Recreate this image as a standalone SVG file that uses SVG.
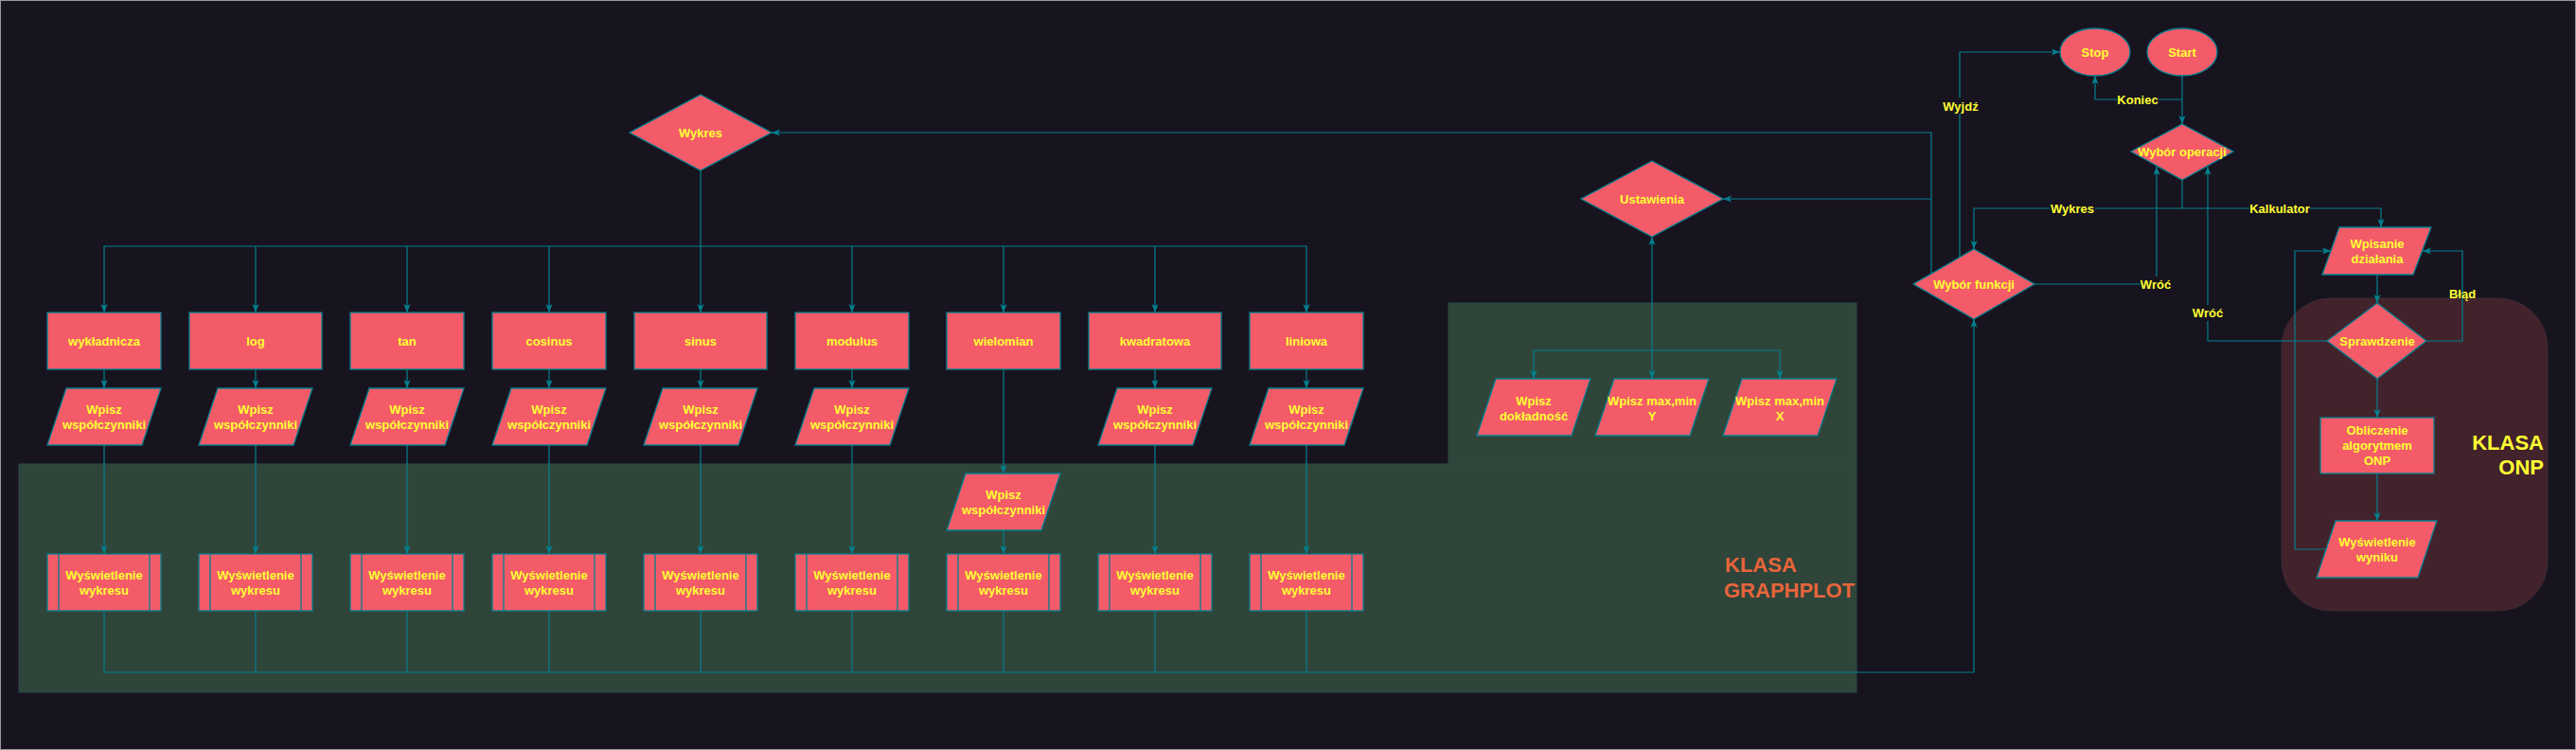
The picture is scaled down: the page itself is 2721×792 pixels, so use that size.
<svg xmlns="http://www.w3.org/2000/svg" width="2721" height="792" viewBox="0 0 2721 792">
<defs>
<style>
.n{fill:#F45B69;stroke:#028090;stroke-width:1.3}
.t{font-family:"Liberation Sans",Arial,sans-serif;font-weight:bold;font-size:13px;fill:#FFFF33;text-anchor:middle;dominant-baseline:central}
.e{fill:none;stroke:#028090;stroke-width:1.2}
.lb{fill:#17141F}
.big{font-family:"Liberation Sans",Arial,sans-serif;font-weight:bold;font-size:22px;dominant-baseline:central}
</style>
<marker id="a" viewBox="0 0 10 10" refX="10" refY="5" markerWidth="9" markerHeight="9" markerUnits="userSpaceOnUse" orient="auto-start-reverse">
<path d="M0,1 L10,5 L0,9 L2.5,5 Z" fill="#028090"/>
</marker>
</defs>
<rect x="0" y="0" width="2721" height="792" fill="#17141F"/>
<rect x="0.5" y="0.5" width="2720" height="791" fill="none" stroke="#9a9a9a" stroke-width="1"/>
<g id="regions">
<rect x="1530" y="320" width="431" height="170" fill="#2F4539" stroke="#2A4B4B" stroke-width="1"/>
<rect x="20" y="490" width="1941" height="241" fill="#2F4539" stroke="#2A4B4B" stroke-width="1"/>
<rect x="2410" y="315" width="281" height="330" rx="52" ry="52" fill="#42222B" stroke="#3a2a33" stroke-width="1"/>
<text class="big" x="1822" y="596" fill="#E8643C">KLASA</text>
<text class="big" x="1821" y="623" fill="#E8643C">GRAPHPLOT</text>
<text class="big" x="2687" y="467" fill="#FFFF33" text-anchor="end">KLASA</text>
<text class="big" x="2687" y="493" fill="#FFFF33" text-anchor="end">ONP</text>
</g>
<g id="connectors">
<path class="e" d="M740,180 V330" marker-end="url(#a)"/>
<path class="e" d="M740,260 H110 V330" marker-end="url(#a)"/>
<path class="e" d="M580,260 V330" marker-end="url(#a)"/>
<path class="e" d="M430,260 V330" marker-end="url(#a)"/>
<path class="e" d="M270,260 V330" marker-end="url(#a)"/>
<path class="e" d="M740,260 H1380 V330" marker-end="url(#a)"/>
<path class="e" d="M900,260 V330" marker-end="url(#a)"/>
<path class="e" d="M1060,260 V330" marker-end="url(#a)"/>
<path class="e" d="M1220,260 V330" marker-end="url(#a)"/>
<path class="e" d="M110,390 V410" marker-end="url(#a)"/>
<path class="e" d="M270,390 V410" marker-end="url(#a)"/>
<path class="e" d="M430,390 V410" marker-end="url(#a)"/>
<path class="e" d="M580,390 V410" marker-end="url(#a)"/>
<path class="e" d="M740,390 V410" marker-end="url(#a)"/>
<path class="e" d="M900,390 V410" marker-end="url(#a)"/>
<path class="e" d="M1060,390 V500" marker-end="url(#a)"/>
<path class="e" d="M1220,390 V410" marker-end="url(#a)"/>
<path class="e" d="M1380,390 V410" marker-end="url(#a)"/>
<path class="e" d="M110,470 V585" marker-end="url(#a)"/>
<path class="e" d="M270,470 V585" marker-end="url(#a)"/>
<path class="e" d="M430,470 V585" marker-end="url(#a)"/>
<path class="e" d="M580,470 V585" marker-end="url(#a)"/>
<path class="e" d="M740,470 V585" marker-end="url(#a)"/>
<path class="e" d="M900,470 V585" marker-end="url(#a)"/>
<path class="e" d="M1060,560 V585" marker-end="url(#a)"/>
<path class="e" d="M1220,470 V585" marker-end="url(#a)"/>
<path class="e" d="M1380,470 V585" marker-end="url(#a)"/>
<path class="e" d="M110,645 V710 M270,645 V710 M430,645 V710 M580,645 V710 M740,645 V710 M900,645 V710 M1060,645 V710 M1220,645 V710 M1380,645 V710"/>
<path class="e" d="M110,710 H2085 V337" stroke-width="1.8" marker-end="url(#a)"/>
<path class="e" d="M2040,289 V140 H815" marker-end="url(#a)"/>
<path class="e" d="M2040,210 H1820" marker-end="url(#a)"/>
<path class="e" d="M2070,272 V55 H2176" marker-end="url(#a)"/>
<path class="e" d="M1745,250 V400" marker-start="url(#a)" marker-end="url(#a)"/>
<path class="e" d="M1745,370 H1620 V400" marker-end="url(#a)"/>
<path class="e" d="M1745,370 H1880 V400" marker-end="url(#a)"/>
<path class="e" d="M2305,80 V131" stroke-width="1.6" marker-end="url(#a)"/>
<path class="e" d="M2305,105 H2213 V80" marker-end="url(#a)"/>
<path class="e" d="M2305,190 V220 H2085 V263" stroke-width="1.5" marker-end="url(#a)"/>
<path class="e" d="M2305,220 H2515 V240" marker-end="url(#a)"/>
<path class="e" d="M2149,300 H2278 V176" marker-end="url(#a)"/>
<path class="e" d="M2458,360 H2332 V176" marker-end="url(#a)"/>
<path class="e" d="M2511,290 V320" marker-end="url(#a)"/>
<path class="e" d="M2563,360 H2601 V265 H2559" marker-end="url(#a)"/>
<path class="e" d="M2511,400 V441" marker-end="url(#a)"/>
<path class="e" d="M2511,500 V550" marker-end="url(#a)"/>
<path class="e" d="M2457,580 H2424 V265 H2462" marker-end="url(#a)"/>
<g id="edge-labels">
<rect class="lb" x="2055" y="103" width="32" height="17"/>
<text class="t" x="2071" y="112">Wyjdź</text>
<rect class="lb" x="2236" y="97" width="44" height="17"/>
<text class="t" x="2258" y="105">Koniec</text>
<rect class="lb" x="2165" y="212" width="48" height="17"/>
<text class="t" x="2189" y="220">Wykres</text>
<rect class="lb" x="2376" y="212" width="64" height="17"/>
<text class="t" x="2408" y="220">Kalkulator</text>
<rect class="lb" x="2261" y="292" width="32" height="17"/>
<text class="t" x="2277" y="300">Wróć</text>
<rect class="lb" x="2316" y="322" width="32" height="17"/>
<text class="t" x="2332" y="330">Wróć</text>
<text class="t" x="2601" y="310">Błąd</text>
</g>
</g>
<g id="start"><ellipse class="n" cx="2305" cy="55" rx="37" ry="25"/><text class="t" x="2305" y="55">Start</text></g>
<g id="stop"><ellipse class="n" cx="2213" cy="55" rx="37" ry="25"/><text class="t" x="2213" y="55">Stop</text></g>
<g id="wybor-operacji"><polygon class="n" points="2305,131 2359,160 2305,190 2251,160"/><text class="t" x="2305" y="160">Wybór operacji</text></g>
<g id="wybor-funkcji"><polygon class="n" points="2085,263 2149,300 2085,337 2021,300"/><text class="t" x="2085" y="300">Wybór funkcji</text></g>
<g id="wpisanie"><polygon class="n" points="2471,240 2568,240 2549,290 2453,290"/><text class="t" x="2511" y="257">Wpisanie</text><text class="t" x="2511" y="273">działania</text></g>
<g id="sprawdzenie"><polygon class="n" points="2511,320 2563,360 2511,400 2458,360"/><text class="t" x="2511" y="360">Sprawdzenie</text></g>
<g id="onp"><rect class="n" x="2451" y="441" width="120" height="59"/><text class="t" x="2511" y="454">Obliczenie</text><text class="t" x="2511" y="470">algorytmem</text><text class="t" x="2511" y="486">ONP</text></g>
<g id="wynik"><polygon class="n" points="2467,550 2574,550 2554,610 2447,610"/><text class="t" x="2511" y="572">Wyświetlenie</text><text class="t" x="2511" y="588">wyniku</text></g>
<g id="ustawienia"><polygon class="n" points="1745,170 1820,210 1745,250 1670,210"/><text class="t" x="1745" y="210">Ustawienia</text></g>
<g id="dokladnosc"><polygon class="n" points="1580,400 1680,400 1660,460 1560,460"/><text class="t" x="1620" y="423">Wpisz</text><text class="t" x="1620" y="439">dokładność</text></g>
<g id="maxmin-y"><polygon class="n" points="1705,400 1805,400 1785,460 1685,460"/><text class="t" x="1745" y="423">Wpisz max,min</text><text class="t" x="1745" y="439">Y</text></g>
<g id="maxmin-x"><polygon class="n" points="1840,400 1940,400 1920,460 1820,460"/><text class="t" x="1880" y="423">Wpisz max,min</text><text class="t" x="1880" y="439">X</text></g>
<g id="wykres"><polygon class="n" points="740,100 815,140 740,180 665,140"/><text class="t" x="740" y="140">Wykres</text></g>
<g id="f-wykladnicza"><rect class="n" x="50" y="330" width="120" height="60"/><text class="t" x="110" y="360">wykładnicza</text></g>
<g id="f-log"><rect class="n" x="200" y="330" width="140" height="60"/><text class="t" x="270" y="360">log</text></g>
<g id="f-tan"><rect class="n" x="370" y="330" width="120" height="60"/><text class="t" x="430" y="360">tan</text></g>
<g id="f-cosinus"><rect class="n" x="520" y="330" width="120" height="60"/><text class="t" x="580" y="360">cosinus</text></g>
<g id="f-sinus"><rect class="n" x="670" y="330" width="140" height="60"/><text class="t" x="740" y="360">sinus</text></g>
<g id="f-modulus"><rect class="n" x="840" y="330" width="120" height="60"/><text class="t" x="900" y="360">modulus</text></g>
<g id="f-wielomian"><rect class="n" x="1000" y="330" width="120" height="60"/><text class="t" x="1060" y="360">wielomian</text></g>
<g id="f-kwadratowa"><rect class="n" x="1150" y="330" width="140" height="60"/><text class="t" x="1220" y="360">kwadratowa</text></g>
<g id="f-liniowa"><rect class="n" x="1320" y="330" width="120" height="60"/><text class="t" x="1380" y="360">liniowa</text></g>
<g id="in-1"><polygon class="n" points="70,410 170,410 150,470 50,470"/><text class="t" x="110" y="432">Wpisz</text><text class="t" x="110" y="448">współczynniki</text></g>
<g id="in-2"><polygon class="n" points="230,410 330,410 310,470 210,470"/><text class="t" x="270" y="432">Wpisz</text><text class="t" x="270" y="448">współczynniki</text></g>
<g id="in-3"><polygon class="n" points="390,410 490,410 470,470 370,470"/><text class="t" x="430" y="432">Wpisz</text><text class="t" x="430" y="448">współczynniki</text></g>
<g id="in-4"><polygon class="n" points="540,410 640,410 620,470 520,470"/><text class="t" x="580" y="432">Wpisz</text><text class="t" x="580" y="448">współczynniki</text></g>
<g id="in-5"><polygon class="n" points="700,410 800,410 780,470 680,470"/><text class="t" x="740" y="432">Wpisz</text><text class="t" x="740" y="448">współczynniki</text></g>
<g id="in-6"><polygon class="n" points="860,410 960,410 940,470 840,470"/><text class="t" x="900" y="432">Wpisz</text><text class="t" x="900" y="448">współczynniki</text></g>
<g id="in-7"><polygon class="n" points="1020,500 1120,500 1100,560 1000,560"/><text class="t" x="1060" y="522">Wpisz</text><text class="t" x="1060" y="538">współczynniki</text></g>
<g id="in-8"><polygon class="n" points="1180,410 1280,410 1260,470 1160,470"/><text class="t" x="1220" y="432">Wpisz</text><text class="t" x="1220" y="448">współczynniki</text></g>
<g id="in-9"><polygon class="n" points="1340,410 1440,410 1420,470 1320,470"/><text class="t" x="1380" y="432">Wpisz</text><text class="t" x="1380" y="448">współczynniki</text></g>
<g id="out-1"><rect class="n" x="50" y="585" width="120" height="60"/><path class="n" d="M62,585 V645 M158,585 V645"/><text class="t" x="110" y="607">Wyświetlenie</text><text class="t" x="110" y="623">wykresu</text></g>
<g id="out-2"><rect class="n" x="210" y="585" width="120" height="60"/><path class="n" d="M222,585 V645 M318,585 V645"/><text class="t" x="270" y="607">Wyświetlenie</text><text class="t" x="270" y="623">wykresu</text></g>
<g id="out-3"><rect class="n" x="370" y="585" width="120" height="60"/><path class="n" d="M382,585 V645 M478,585 V645"/><text class="t" x="430" y="607">Wyświetlenie</text><text class="t" x="430" y="623">wykresu</text></g>
<g id="out-4"><rect class="n" x="520" y="585" width="120" height="60"/><path class="n" d="M532,585 V645 M628,585 V645"/><text class="t" x="580" y="607">Wyświetlenie</text><text class="t" x="580" y="623">wykresu</text></g>
<g id="out-5"><rect class="n" x="680" y="585" width="120" height="60"/><path class="n" d="M692,585 V645 M788,585 V645"/><text class="t" x="740" y="607">Wyświetlenie</text><text class="t" x="740" y="623">wykresu</text></g>
<g id="out-6"><rect class="n" x="840" y="585" width="120" height="60"/><path class="n" d="M852,585 V645 M948,585 V645"/><text class="t" x="900" y="607">Wyświetlenie</text><text class="t" x="900" y="623">wykresu</text></g>
<g id="out-7"><rect class="n" x="1000" y="585" width="120" height="60"/><path class="n" d="M1012,585 V645 M1108,585 V645"/><text class="t" x="1060" y="607">Wyświetlenie</text><text class="t" x="1060" y="623">wykresu</text></g>
<g id="out-8"><rect class="n" x="1160" y="585" width="120" height="60"/><path class="n" d="M1172,585 V645 M1268,585 V645"/><text class="t" x="1220" y="607">Wyświetlenie</text><text class="t" x="1220" y="623">wykresu</text></g>
<g id="out-9"><rect class="n" x="1320" y="585" width="120" height="60"/><path class="n" d="M1332,585 V645 M1428,585 V645"/><text class="t" x="1380" y="607">Wyświetlenie</text><text class="t" x="1380" y="623">wykresu</text></g>
</svg>
